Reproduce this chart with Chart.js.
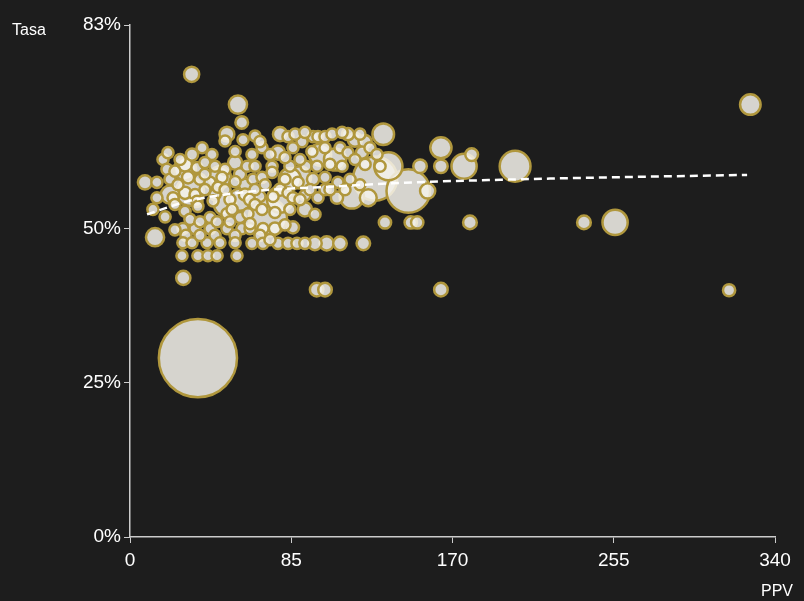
<!DOCTYPE html>
<html>
<head>
<meta charset="utf-8">
<script src="https://cdn.jsdelivr.net/npm/chart.js@4.4.1/dist/chart.umd.min.js"></script>
<style>
  html, body { margin: 0; padding: 0; background: #1d1d1d; }
  #wrap { width: 804px; height: 601px; }
</style>
</head>
<body>
<div id="wrap"><canvas id="chart" width="804" height="601"></canvas></div>
<script>
// Data: x = PPV, y = Tasa (%), tam = bubble size value
const ppv = [
  32.5, 56.9, 327.0, 58.9, 35.8, 28.1, 98.4, 102.8, 163.9, 315.8, 239.3, 255.7, 179.2, 148.0, 151.4, 134.4,
  203.0, 176.1, 180.1, 163.9, 163.9, 152.9, 146.7, 156.9, 136.2, 129.2, 133.5, 116.9, 125.6, 7.9, 13.2,
  123.0, 110.7, 103.7, 97.5,
  31.6, 72.7, 89.6, 100.2, 108.1, 50.1, 79.1, 118.6, 29.0, 58.0, 84.3, 47.4, 21.1,
  51.1, 50.1, 65.9, 79.1, 83.3, 90.7, 96.5, 99.1, 102.8, 106.5, 111.8, 114.9, 123.9,
  17.4, 20.0, 32.7, 38.0, 43.2, 55.4, 64.3, 69.6, 78.0, 85.9, 95.9, 102.8, 110.7, 114.9, 122.3, 126.5, 130.2,
  19.5, 29.0, 35.3, 39.5, 44.8, 50.1, 55.4, 61.7, 65.9, 74.9, 84.3, 92.8, 98.6, 105.4, 111.8, 131.8, 74.9,
  21.1, 25.3, 30.6, 36.9, 42.2, 48.5, 55.4, 60.6, 64.8, 69.6, 81.7, 88.6, 96.5, 102.8, 109.6, 116.0,
  14.2, 22.7, 29.0, 34.3, 39.5, 44.8, 35.3, 43.8, 52.7, 60.6, 68.5, 75.4, 83.3, 85.9, 92.2, 99.1, 102.8, 109.1,
  12.1, 18.5, 29.0, 35.8, 42.2, 51.1, 58.0, 62.2, 65.9, 69.6, 76.4, 84.3, 92.2,
  27.9, 34.3, 42.2, 51.1, 59.0, 63.3, 70.1, 76.4, 85.9,
  29.5, 44.8, 55.4, 68.5,
  27.9, 32.7, 40.6, 47.4, 55.4, 64.3, 70.1, 78.0, 83.3, 88.0, 92.2,
  27.4, 35.8, 41.1, 45.9, 56.4,
  23.7, 14.2, 31.6, 36.9, 52.7, 63.3, 71.2, 79.1, 81.7, 73.8, 65.9, 89.6, 94.9, 105.4, 113.3,
  89.6, 81.7, 73.8, 59.6, 68.5, 87.0, 92.2, 121.2, 118.6, 123.9, 121.2, 26.4, 23.7, 39.5,
  46.4, 50.1, 58.0, 53.8, 45.9, 36.9, 23.7, 63.3, 97.5
];
const tasa = [
  75.0, 70.1, 70.1, 67.2, 29.0, 42.0, 40.1, 40.1, 40.1, 40.0, 51.0, 51.0, 51.0, 51.0, 51.0, 51.0,
  60.1, 60.1, 62.0, 63.1, 60.1, 60.1, 56.1, 56.1, 60.1, 58.1, 65.3, 55.2, 55.0, 57.5, 48.6,
  47.6, 47.6, 47.6, 47.6,
  56.0, 51.8, 58.3, 62.0, 61.2, 53.9, 54.7, 64.4, 59.6, 54.7, 58.0, 58.3, 55.5,
  65.3, 64.2, 65.0, 65.3, 64.9, 64.1, 64.9, 64.9, 64.9, 65.3, 65.6, 65.3, 64.1,
  61.2, 62.3, 62.0, 63.1, 62.0, 62.5, 62.0, 63.1, 62.3, 63.1, 62.5, 63.1, 63.1, 62.3, 62.3, 63.1, 62.0,
  59.6, 60.4, 59.9, 60.7, 60.1, 59.6, 60.7, 60.1, 60.1, 60.1, 60.1, 60.1, 60.1, 60.4, 60.1, 60.1, 59.1,
  58.0, 57.1, 58.3, 58.0, 57.5, 58.3, 57.6, 57.1, 58.0, 58.3, 58.0, 57.5, 58.0, 58.3, 57.5, 58.0,
  55.0, 55.0, 55.8, 55.5, 56.3, 55.5, 54.4, 54.5, 54.7, 55.5, 55.2, 55.2, 55.8, 55.0, 55.4, 55.0, 56.3, 55.0,
  53.1, 51.9, 52.8, 53.6, 51.8, 52.4, 51.8, 52.4, 53.9, 53.1, 52.6, 53.1, 53.1,
  50.0, 50.0, 50.0, 50.0, 50.0, 50.0, 50.0, 50.0, 50.2,
  48.9, 48.9, 48.9, 48.9,
  47.7, 47.7, 47.7, 47.7, 47.7, 47.6, 47.6, 47.6, 47.6, 47.6, 47.6,
  45.6, 45.6, 45.6, 45.6, 45.6,
  53.9, 57.5, 51.5, 48.9, 51.1, 54.7, 57.1, 56.3, 50.6, 48.2, 56.3, 54.7, 56.3, 56.3, 56.3,
  61.2, 61.5, 62.0, 64.4, 64.1, 65.3, 65.6, 65.3, 61.2, 60.4, 57.1, 61.2, 59.3, 58.8,
  56.7, 56.3, 58.8, 53.1, 51.1, 51.1, 49.8, 50.8, 52.3
];
const tam = [
  72, 100, 125, 52, 1600, 64, 59, 59, 59, 49, 60, 182, 60, 50, 50, 50,
  266, 182, 53, 132, 59, 59, 515, 72, 225, 529, 137, 169, 87, 64, 100,
  59, 59, 64, 59,
  225, 400, 144, 144, 144, 144, 196, 64, 144, 144, 144, 144, 100,
  69, 42, 42, 64, 42, 42, 42, 42, 42, 42, 42, 49, 56,
  42, 42, 49, 42, 42, 42, 42, 42, 64, 42, 42, 42, 42, 42, 49, 42, 42,
  42, 64, 42, 42, 42, 42, 64, 42, 42, 42, 42, 42, 42, 42, 42, 42, 42,
  42, 42, 49, 42, 42, 42, 42, 49, 42, 42, 42, 42, 49, 42, 42, 42,
  42, 42, 49, 42, 42, 42, 42, 42, 42, 49, 42, 42, 42, 42, 42, 42, 42, 49,
  42, 42, 42, 42, 42, 42, 42, 42, 42, 42, 42, 42, 64,
  42, 42, 42, 42, 42, 42, 42, 49, 49,
  42, 42, 42, 42,
  42, 42, 42, 42, 42, 42, 42, 42, 42, 42, 42,
  42, 42, 42, 42, 42,
  42, 42, 42, 42, 42, 49, 42, 49, 42, 42, 42, 42, 42, 42, 42,
  42, 42, 42, 42, 42, 42, 42, 42, 42, 42, 42, 42, 42, 42,
  42, 42, 49, 42, 42, 42, 42, 42, 42
];

// dashed trend line
const trendPPV = [9.0, 30.0, 47.4, 73.8, 100.2, 142.3, 221.4, 325.3];
const trendTasa = [52.3, 54.4, 55.4, 56.3, 56.7, 57.4, 58.1, 58.7];

const xTicks = [0, 85, 170, 255, 340];
const yTicks = [0, 25, 50, 83];

// big bubbles first so small ones sit on top
const order = ppv.map((_, i) => i).sort((a, b) => tam[b] - tam[a]);
const bubbles = order.map(i => ({ x: ppv[i], y: tasa[i], r: Math.sqrt(tam[i]) - 0.9 }));
const trend = trendPPV.map((x, i) => ({ x: x, y: trendTasa[i] }));

const axisTitles = {
  id: 'axisTitles',
  afterDraw(chart) {
    const ctx = chart.ctx;
    ctx.save();
    ctx.fillStyle = '#ffffff';
    ctx.font = '16px "Liberation Sans", Arial, sans-serif';
    ctx.textBaseline = 'middle';
    ctx.textAlign = 'left';
    ctx.fillText('Tasa', 12, 31);
    ctx.textAlign = 'right';
    ctx.fillText('PPV', 793, 592);
    ctx.restore();
  }
};

const tickFont = { family: '"Liberation Sans", Arial, sans-serif', size: 19 };

new Chart(document.getElementById('chart'), {
  type: 'bubble',
  data: {
    datasets: [
      {
        type: 'line',
        data: trend,
        borderColor: '#ffffff',
        borderWidth: 2.5,
        borderDash: [8, 5],
        pointRadius: 0,
        fill: false,
        cubicInterpolationMode: 'monotone',
        order: 0
      },
      {
        data: bubbles,
        backgroundColor: 'rgba(244, 242, 235, 0.86)',
        borderColor: '#b0973d',
        borderWidth: 2.5,
        order: 1
      }
    ]
  },
  options: {
    responsive: false,
    animation: false,
    layout: { autoPadding: false, padding: { top: 25, right: 29, left: 0, bottom: 0 } },
    plugins: { legend: { display: false }, tooltip: { enabled: false } },
    scales: {
      x: {
        type: 'linear',
        min: 0,
        max: 340,
        afterBuildTicks: s => { s.ticks = xTicks.map(v => ({ value: v })); },
        afterFit: s => { s.height = 64; },
        grid: { drawOnChartArea: false, color: '#cccccc', tickLength: 6, tickColor: '#cccccc' },
        border: { color: '#cccccc', width: 1.5 },
        ticks: { color: '#ffffff', font: tickFont, padding: 6, maxRotation: 0 }
      },
      y: {
        type: 'linear',
        min: 0,
        max: 83,
        afterBuildTicks: s => { s.ticks = yTicks.map(v => ({ value: v })); },
        afterFit: s => { s.width = 130; },
        grid: { drawOnChartArea: false, color: '#cccccc', tickLength: 6, tickColor: '#cccccc' },
        border: { color: '#cccccc', width: 1.5 },
        ticks: { color: '#ffffff', font: tickFont, padding: 3, callback: v => v + '%' }
      }
    }
  },
  plugins: [axisTitles]
});
</script>
</body>
</html>
